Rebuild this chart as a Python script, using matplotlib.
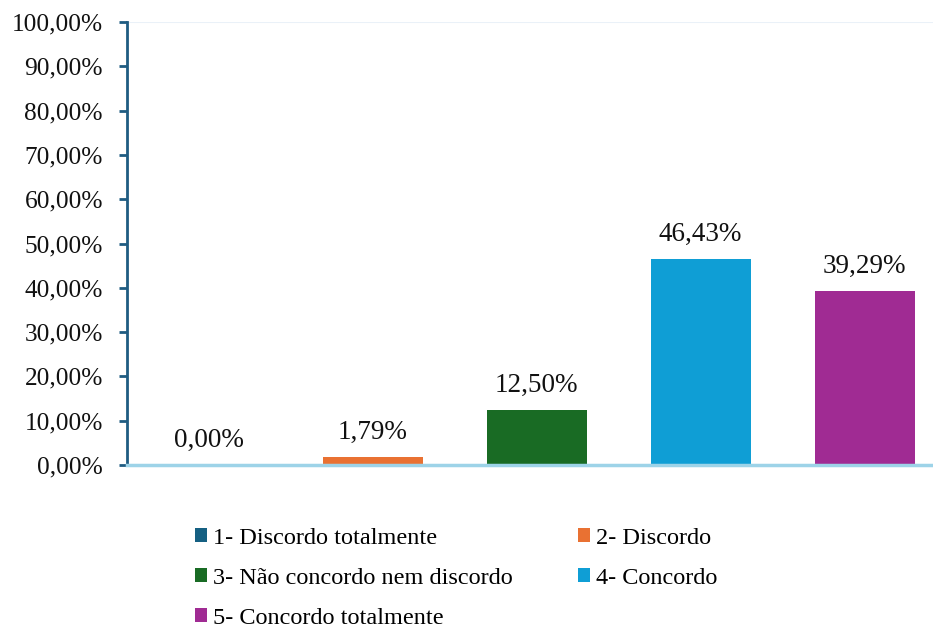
import matplotlib.pyplot as plt
from matplotlib.patches import Patch

categories = ["1- Discordo totalmente", "2- Discordo", "3- Não concordo nem discordo",
              "4- Concordo", "5- Concordo totalmente"]
values = [0.00, 1.79, 12.50, 46.43, 39.29]
colors = ["#156082", "#E97132", "#196B24", "#0F9ED5", "#A02B93"]
yticks = list(range(0, 101, 10))


def pt(v):
    return f"{v:.2f}".replace(".", ",") + "%"


plt.rcParams["font.family"] = ["Liberation Serif", "DejaVu Serif"]

fig = plt.figure(figsize=(9.33, 6.29), dpi=100)
ax = fig.add_axes([0.1356, 0.2607, 0.879, 0.7043])

x = list(range(len(values)))
bars = ax.bar(x, values, width=0.61, color=colors, zorder=2)
for xi, v in zip(x, values):
    ax.annotate(pt(v), (xi, v), xytext=(0, 13), textcoords="offset points",
                ha="center", va="baseline", fontsize=19.5, color="#111111")

ax.set_xlim(-0.5, len(values) - 0.5)
ax.set_ylim(0, 100)
ax.set_yticks(yticks)
ax.set_yticklabels([pt(t) for t in yticks], fontsize=18.3, color="#111111")
ax.set_xticks([])
ax.tick_params(axis="y", direction="out", length=6, width=2, color="#1F5C82", pad=11)

ax.axhline(100, color="#EAF1F8", lw=1.5, zorder=1)
for side in ("top", "right"):
    ax.spines[side].set_visible(False)
ax.spines["left"].set_color("#1F5C82")
ax.spines["left"].set_linewidth(2)
ax.spines["bottom"].set_color("#9DD3E8")
ax.spines["bottom"].set_linewidth(2.5)
ax.spines["bottom"].set_zorder(3)

# legend filled column-wise, so reorder to read row by row
order = [0, 2, 4, 1, 3]
handles = [Patch(facecolor=colors[i], edgecolor="none") for i in order]
labels = [categories[i] for i in order]
fig.legend(handles, labels, ncol=2, loc="upper left",
           bbox_to_anchor=(195 / 933, 1 - 528 / 629), frameon=False,
           fontsize=17.5, handlelength=0.5, handleheight=0.5, handletextpad=0.25,
           columnspacing=2.68, labelspacing=0.78, borderaxespad=0, borderpad=0)

fig.savefig("out.png", dpi=100)
